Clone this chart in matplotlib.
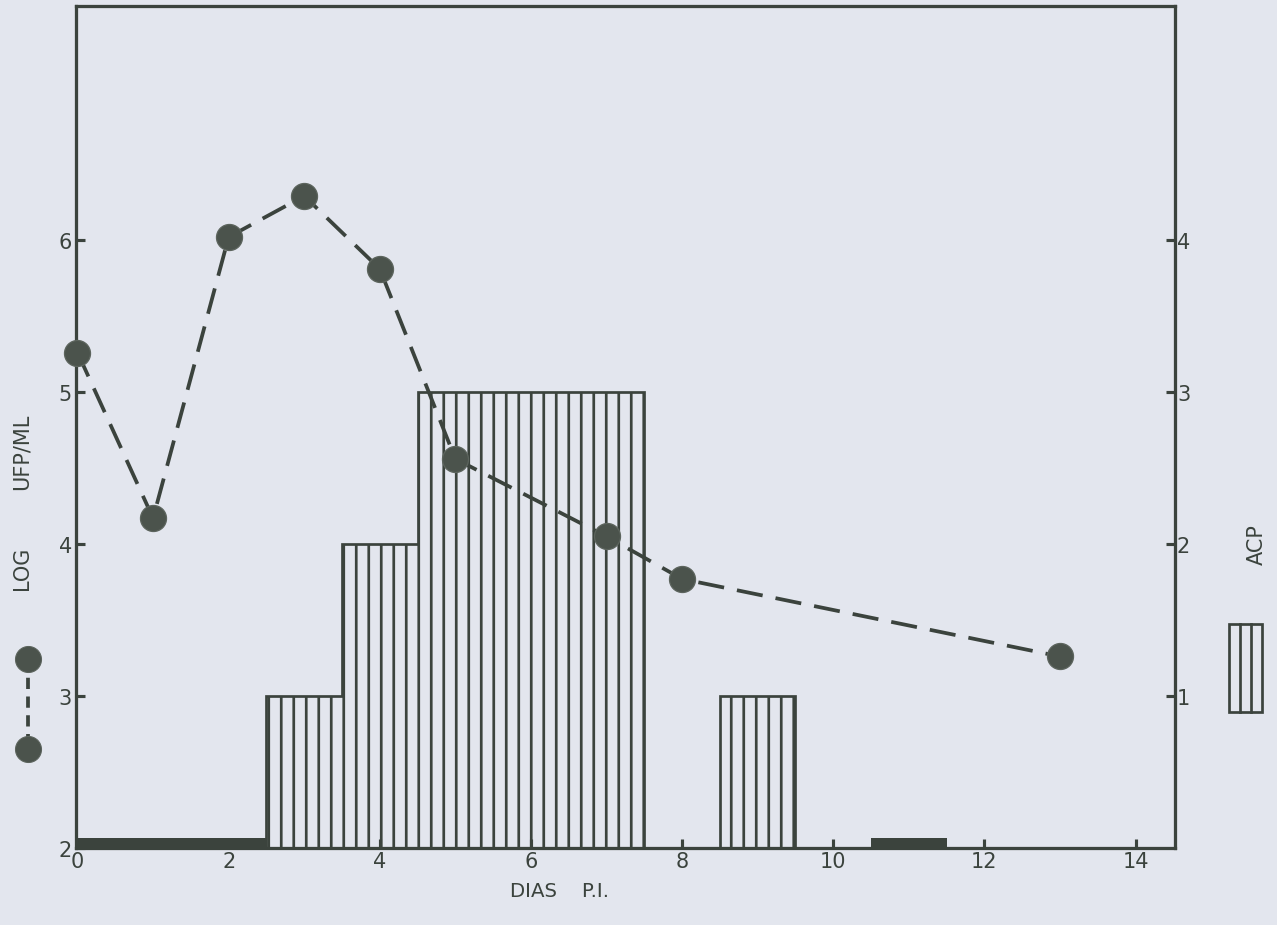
"""LOG UFP/ML (dashed, circles) and ACP (hatched bars) versus days p.i."""

import matplotlib

matplotlib.use("Agg")
import matplotlib.pyplot as plt
from matplotlib.lines import Line2D
from matplotlib.patches import Rectangle

# virus titre, log UFP/ML
dias = [0, 1, 2, 3, 4, 5, 7, 8, 13]
log_ufp = [5.26, 4.17, 6.02, 6.29, 5.81, 4.56, 4.05, 3.77, 3.26]

# ACP per day
acp_dias = [3, 4, 5, 6, 7, 9]
acp = [1, 2, 3, 3, 3, 1]
# days sampled with ACP = 0 (thick strip on baseline)
acp_cero = [0, 1, 2, 11]

BG = "#e3e6ee"
INK = "#3b433d"
DOT = "#4b534c"

DPI = 75
plt.rcParams["hatch.linewidth"] = 2.6
plt.rcParams["font.family"] = ["DejaVu Sans"]

fig = plt.figure(figsize=(1277 / DPI, 926 / DPI), dpi=DPI, facecolor=BG)
ax = fig.add_axes([0.0595, 0.0832, 0.8605, 0.9092], facecolor=BG)
ax2 = ax.twinx()

# bars (right axis): hatch fill, then one outline per run of days
ax2.bar(acp_dias, acp, width=1.0, facecolor=BG, edgecolor=INK, hatch="|",
        linewidth=0, zorder=2)
full = [0] * (max(acp_dias) + 2)
for d, v in zip(acp_dias, acp):
    full[d] = v
edges = [i - 0.5 for i in range(len(full) + 1)]
ax2.stairs(full, edges, color=INK, linewidth=2.6, zorder=2)

# zero readings: day 0 starts at the axis
ax2.bar([d if d else 0.25 for d in acp_cero],
        [0.065] * len(acp_cero),
        width=[1.0 if d else 0.5 for d in acp_cero],
        color=INK, linewidth=0, zorder=2)
ax2.set_ylim(0, 5.54)
ax2.set_yticks([1, 2, 3, 4])
ax2.tick_params(axis="y", direction="in", length=9, width=3, color=INK,
                labelsize=20, labelcolor=INK, pad=2)

# titre (left axis), drawn above bars
ax.set_zorder(ax2.get_zorder() + 1)
ax.patch.set_visible(False)
ax.plot(dias, log_ufp, ls=(0, (7, 3.5)), lw=3.6, color=INK, marker="o",
        ms=25, mfc=DOT, mec="#5c645d", mew=1.2, zorder=3, clip_on=False)
ax.set_xlim(-0.02, 14.52)
ax.set_ylim(2, 7.54)
ax.set_xticks(range(0, 15, 2))
ax.set_yticks([2, 3, 4, 5, 6])
ax.tick_params(axis="both", direction="in", length=9, width=3, color=INK,
               labelsize=20, labelcolor=INK, pad=3)
ax.tick_params(axis="y", pad=4)

for a in (ax, ax2):
    for s in a.spines.values():
        s.set_color(INK)
        s.set_linewidth(3)

ax.set_xlabel("DIAS    P.I.", fontsize=19, color=INK, labelpad=10, x=0.44)

# axis titles as placed on the figure
fig.text(22 / 1277, 1 - 452 / 926, "UFP/ML", rotation=90, fontsize=20,
         color=INK, ha="center", va="center")
fig.text(22 / 1277, 1 - 568 / 926, "LOG", rotation=90, fontsize=20,
         color=INK, ha="center", va="center")
fig.text(1257 / 1277, 1 - 545 / 926, "ACP", rotation=90, fontsize=20,
         color=INK, ha="center", va="center")

# key glyphs
fig.add_artist(Line2D([28 / 1277, 28 / 1277], [1 - 660 / 926, 1 - 750 / 926],
                      transform=fig.transFigure, ls=(0, (3, 2)), lw=3.6,
                      color=INK, marker="o", ms=25, mfc=DOT, mec="#5c645d"))
x0, x1 = 1229 / 1277, 1262 / 1277
y0, y1 = 1 - 713 / 926, 1 - 625 / 926
fig.add_artist(Rectangle((x0, y0), x1 - x0, y1 - y0, transform=fig.transFigure,
                         facecolor=BG, edgecolor=INK, lw=2.6))
for f in (1 / 3, 2 / 3):
    xx = x0 + f * (x1 - x0)
    fig.add_artist(Line2D([xx, xx], [y0, y1], transform=fig.transFigure,
                          lw=2.6, color=INK))

fig.savefig("out.png", dpi=DPI, facecolor=BG)
